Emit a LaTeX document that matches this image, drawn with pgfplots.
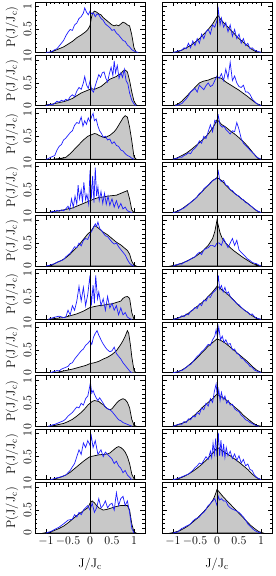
\documentclass[border=0pt]{standalone}
\usepackage{pgfplots}
\pgfplotsset{compat=1.18}
\usepgfplotslibrary{groupplots}
\definecolor{histgray}{RGB}{200,200,200}
\definecolor{myblue}{RGB}{30,30,255}
\newcommand{\panel}[2]{%
  \nextgroupplot
  \addplot[fill=histgray, draw=black, line width=0.7pt] coordinates {#1} \closedcycle;
  \addplot[myblue, line width=0.7pt] coordinates {#2};
  \addplot[black, line width=0.8pt] coordinates {(0,0) (0,1.1)};
}
\begin{document}
\begin{tikzpicture}
\begin{groupplot}[
  group style={group size=2 by 10, horizontal sep=17pt, vertical sep=3pt,
    xticklabels at=edge bottom, yticklabels at=edge left,
    xlabels at=edge bottom, ylabels at=edge left},
  scale only axis, width=110pt, height=50.4pt,
  xmin=-1.25, xmax=1.25, ymin=0, ymax=1.1,
  xtick={-1,-0.5,0,0.5,1}, ytick={0,0.5,1},
  minor x tick num=4, minor y tick num=4,
  tick align=inside, major tick length=4.5pt, minor tick length=2.5pt,
  axis line style={line width=0.9pt},
  every tick/.style={black, line width=0.7pt},
  tick label style={font=\fontsize{12}{14}\selectfont},
  yticklabel style={rotate=90, anchor=south},
  ylabel={P(J/J$_\mathrm{c}$)},
  ylabel style={at={(axis description cs:-0.21,0.5)}, anchor=center, font=\fontsize{12.5}{14}\selectfont},
  xlabel={J/J$_\mathrm{c}$},
  xlabel style={at={(axis description cs:0.5,-0.62)}, anchor=center, font=\fontsize{12.5}{14}\selectfont},
  clip=true,
]
% Row 1
\panel{(-1.0,0)(-0.9,0)(-0.8,0.04)(-0.7,0.08)(-0.6,0.12)(-0.5,0.18)(-0.4,0.24)(-0.3,0.32)(-0.2,0.38)(-0.1,0.45)(-0.05,0.5)(0,0.58)(0.03,0.75)(0.06,0.86)(0.1,0.9)(0.15,0.88)(0.2,0.84)(0.25,0.82)(0.3,0.76)(0.35,0.72)(0.4,0.68)(0.45,0.64)(0.5,0.6)(0.55,0.58)(0.6,0.6)(0.65,0.58)(0.7,0.62)(0.75,0.66)(0.8,0.64)(0.85,0.6)(0.9,0.58)(0.95,0.38)(1.0,0.1)(1.05,0)}
{(-1.0,0)(-0.9,0.01)(-0.85,0.03)(-0.8,0.06)(-0.75,0.08)(-0.7,0.14)(-0.65,0.2)(-0.6,0.26)(-0.55,0.36)(-0.5,0.44)(-0.45,0.5)(-0.4,0.48)(-0.35,0.6)(-0.3,0.64)(-0.25,0.74)(-0.2,0.78)(-0.15,0.86)(-0.12,0.97)(-0.08,0.88)(-0.04,0.82)(0,0.9)(0.04,0.84)(0.08,0.86)(0.12,0.78)(0.16,0.84)(0.2,0.82)(0.25,0.74)(0.3,0.7)(0.35,0.62)(0.4,0.58)(0.45,0.54)(0.5,0.48)(0.55,0.5)(0.6,0.42)(0.65,0.38)(0.7,0.32)(0.75,0.26)(0.8,0.24)(0.85,0.16)(0.9,0.12)(0.95,0.06)(1.0,0.03)(1.05,0.01)(1.1,0)}
\panel{(-1.0,0)(-0.9,0.01)(-0.8,0.05)(-0.7,0.1)(-0.6,0.15)(-0.5,0.22)(-0.4,0.3)(-0.3,0.4)(-0.2,0.5)(-0.1,0.62)(-0.05,0.7)(0,0.78)(0.03,0.8)(0.07,0.74)(0.12,0.68)(0.2,0.6)(0.3,0.5)(0.4,0.4)(0.5,0.3)(0.6,0.22)(0.7,0.14)(0.8,0.06)(0.9,0.01)(1.0,0)}
{(-1.0,0)(-0.95,0.01)(-0.85,0.04)(-0.8,0.05)(-0.75,0.1)(-0.7,0.08)(-0.65,0.2)(-0.6,0.1)(-0.55,0.25)(-0.5,0.15)(-0.45,0.3)(-0.4,0.2)(-0.35,0.4)(-0.3,0.3)(-0.25,0.45)(-0.2,0.5)(-0.15,0.4)(-0.1,0.6)(-0.05,0.55)(0,0.7)(0.03,0.94)(0.07,0.6)(0.1,0.75)(0.15,0.55)(0.2,0.65)(0.25,0.45)(0.3,0.6)(0.35,0.35)(0.4,0.5)(0.45,0.3)(0.5,0.4)(0.55,0.2)(0.6,0.3)(0.65,0.15)(0.7,0.2)(0.75,0.08)(0.8,0.1)(0.85,0.05)(0.9,0.03)(1.0,0)}
% Row 2
\panel{(-1.05,0)(-1.0,0.02)(-0.9,0.03)(-0.8,0.05)(-0.7,0.07)(-0.6,0.09)(-0.5,0.12)(-0.4,0.16)(-0.3,0.22)(-0.2,0.28)(-0.1,0.32)(0,0.36)(0.05,0.37)(0.1,0.36)(0.15,0.38)(0.2,0.4)(0.25,0.42)(0.3,0.46)(0.35,0.5)(0.4,0.54)(0.45,0.58)(0.5,0.6)(0.55,0.62)(0.6,0.64)(0.65,0.68)(0.7,0.7)(0.75,0.76)(0.8,0.78)(0.85,0.74)(0.9,0.55)(0.95,0.3)(1.0,0.1)(1.05,0.02)(1.1,0)}
{(-1.0,0)(-0.95,0.02)(-0.9,0.03)(-0.85,0.02)(-0.8,0.06)(-0.75,0.1)(-0.7,0.08)(-0.65,0.12)(-0.6,0.1)(-0.55,0.14)(-0.5,0.12)(-0.45,0.2)(-0.4,0.24)(-0.35,0.2)(-0.3,0.32)(-0.25,0.4)(-0.2,0.36)(-0.15,0.5)(-0.12,0.64)(-0.08,0.46)(-0.04,0.38)(0,0.54)(0.04,0.34)(0.08,0.3)(0.12,0.44)(0.16,0.56)(0.2,0.68)(0.24,0.62)(0.28,0.72)(0.32,0.74)(0.36,0.6)(0.4,0.52)(0.44,0.7)(0.48,0.84)(0.52,0.66)(0.55,0.98)(0.58,0.72)(0.62,0.88)(0.66,0.6)(0.7,0.72)(0.74,0.62)(0.78,0.8)(0.82,0.55)(0.86,0.48)(0.9,0.28)(0.95,0.12)(1.0,0.04)(1.05,0)}
\panel{(-1.0,0)(-0.9,0.03)(-0.8,0.1)(-0.7,0.2)(-0.6,0.3)(-0.5,0.4)(-0.4,0.5)(-0.3,0.54)(-0.2,0.56)(-0.1,0.6)(0,0.63)(0.1,0.6)(0.2,0.52)(0.3,0.46)(0.4,0.4)(0.5,0.34)(0.6,0.27)(0.7,0.2)(0.8,0.12)(0.9,0.05)(1.0,0.01)(1.05,0)}
{(-0.95,0)(-0.85,0.03)(-0.8,0.05)(-0.75,0.1)(-0.7,0.15)(-0.65,0.22)(-0.6,0.3)(-0.55,0.34)(-0.5,0.38)(-0.45,0.3)(-0.4,0.45)(-0.35,0.4)(-0.3,0.35)(-0.25,0.44)(-0.2,0.5)(-0.15,0.42)(-0.1,0.45)(-0.05,0.55)(0,0.65)(0.05,0.6)(0.1,0.7)(0.15,0.55)(0.2,0.8)(0.25,0.6)(0.3,0.95)(0.35,0.55)(0.4,0.65)(0.45,0.5)(0.5,0.42)(0.55,0.4)(0.6,0.45)(0.65,0.3)(0.7,0.3)(0.75,0.25)(0.8,0.15)(0.85,0.1)(0.9,0.05)(0.95,0.02)(1.0,0)}
% Row 3
\panel{(-0.85,0)(-0.75,0.01)(-0.65,0.02)(-0.55,0.04)(-0.45,0.12)(-0.35,0.22)(-0.25,0.32)(-0.15,0.42)(-0.05,0.5)(0,0.52)(0.05,0.54)(0.1,0.56)(0.15,0.55)(0.2,0.52)(0.25,0.5)(0.3,0.48)(0.35,0.47)(0.4,0.5)(0.45,0.52)(0.5,0.56)(0.55,0.6)(0.6,0.66)(0.65,0.74)(0.7,0.82)(0.75,0.9)(0.8,0.95)(0.85,0.92)(0.9,0.7)(0.95,0.4)(1.0,0.05)(1.05,0)}
{(-1.0,0)(-0.95,0.01)(-0.9,0.04)(-0.85,0.06)(-0.8,0.08)(-0.75,0.2)(-0.7,0.28)(-0.65,0.32)(-0.6,0.42)(-0.55,0.46)(-0.5,0.52)(-0.45,0.58)(-0.4,0.62)(-0.35,0.74)(-0.3,0.8)(-0.25,0.78)(-0.2,0.92)(-0.16,0.72)(-0.12,0.84)(-0.08,0.76)(-0.04,0.9)(0,0.82)(0.04,0.94)(0.07,1.0)(0.1,0.84)(0.14,0.88)(0.18,0.72)(0.22,0.62)(0.26,0.56)(0.3,0.48)(0.35,0.5)(0.4,0.42)(0.45,0.44)(0.5,0.34)(0.55,0.38)(0.6,0.3)(0.65,0.28)(0.7,0.2)(0.75,0.18)(0.8,0.12)(0.85,0.08)(0.9,0.06)(0.95,0.02)(1.0,0)}
\panel{(-1.0,0)(-0.9,0.03)(-0.8,0.08)(-0.7,0.13)(-0.6,0.2)(-0.5,0.28)(-0.4,0.36)(-0.3,0.45)(-0.2,0.55)(-0.1,0.68)(-0.05,0.76)(0,0.86)(0.05,0.82)(0.1,0.76)(0.2,0.7)(0.3,0.62)(0.4,0.55)(0.5,0.47)(0.6,0.38)(0.7,0.28)(0.8,0.16)(0.9,0.05)(0.95,0.01)(1.0,0)}
{(-1.0,0)(-0.9,0.02)(-0.85,0.05)(-0.8,0.04)(-0.75,0.08)(-0.7,0.1)(-0.65,0.14)(-0.6,0.12)(-0.55,0.2)(-0.5,0.24)(-0.45,0.3)(-0.4,0.4)(-0.35,0.35)(-0.3,0.5)(-0.25,0.45)(-0.2,0.6)(-0.15,0.75)(-0.1,0.6)(-0.05,0.85)(0,0.8)(0.03,0.95)(0.07,0.75)(0.12,0.7)(0.16,0.72)(0.2,0.65)(0.25,0.6)(0.3,0.55)(0.35,0.62)(0.4,0.6)(0.45,0.8)(0.5,0.65)(0.55,0.45)(0.6,0.35)(0.65,0.3)(0.7,0.25)(0.75,0.2)(0.8,0.15)(0.85,0.1)(0.9,0.05)(0.95,0.02)(1.0,0)}
% Row 4
\panel{(-0.95,0)(-0.85,0.02)(-0.7,0.04)(-0.55,0.07)(-0.4,0.1)(-0.3,0.14)(-0.2,0.18)(-0.1,0.22)(0,0.26)(0.1,0.3)(0.2,0.33)(0.3,0.34)(0.4,0.36)(0.5,0.37)(0.6,0.38)(0.7,0.42)(0.75,0.44)(0.8,0.46)(0.85,0.48)(0.9,0.3)(0.95,0.06)(1.0,0)}
{(-0.9,0)(-0.85,0.03)(-0.8,0.02)(-0.75,0.05)(-0.7,0.03)(-0.65,0.06)(-0.6,0.04)(-0.55,0.08)(-0.5,0.14)(-0.46,0.06)(-0.42,0.3)(-0.38,0.12)(-0.34,0.36)(-0.3,0.18)(-0.27,0.6)(-0.24,0.3)(-0.2,0.5)(-0.17,0.22)(-0.14,0.66)(-0.1,0.28)(-0.07,0.4)(-0.03,0.18)(0,0.92)(0.03,0.3)(0.06,0.8)(0.09,0.22)(0.12,0.98)(0.15,0.36)(0.18,0.56)(0.21,0.26)(0.25,0.46)(0.29,0.2)(0.33,0.42)(0.37,0.18)(0.41,0.36)(0.45,0.16)(0.5,0.3)(0.55,0.12)(0.6,0.26)(0.65,0.1)(0.7,0.2)(0.75,0.08)(0.8,0.12)(0.85,0.04)(0.9,0.02)(0.95,0)}
\panel{(-1.0,0)(-0.9,0.03)(-0.8,0.08)(-0.7,0.15)(-0.6,0.22)(-0.5,0.3)(-0.4,0.4)(-0.3,0.5)(-0.2,0.6)(-0.1,0.7)(0,0.76)(0.05,0.74)(0.1,0.7)(0.2,0.6)(0.3,0.5)(0.4,0.42)(0.5,0.35)(0.6,0.27)(0.7,0.2)(0.8,0.12)(0.9,0.04)(1.0,0)}
{(-1.0,0)(-0.9,0.02)(-0.85,0.05)(-0.8,0.08)(-0.75,0.1)(-0.7,0.14)(-0.65,0.18)(-0.6,0.22)(-0.55,0.26)(-0.5,0.3)(-0.45,0.34)(-0.4,0.42)(-0.35,0.44)(-0.3,0.52)(-0.25,0.56)(-0.2,0.6)(-0.15,0.64)(-0.1,0.7)(-0.05,0.72)(0,0.76)(0.03,0.9)(0.06,0.72)(0.1,0.68)(0.15,0.7)(0.2,0.6)(0.25,0.58)(0.3,0.5)(0.35,0.48)(0.4,0.42)(0.45,0.38)(0.5,0.36)(0.55,0.3)(0.6,0.28)(0.65,0.22)(0.7,0.2)(0.75,0.16)(0.8,0.12)(0.85,0.08)(0.9,0.05)(0.95,0.02)(1.0,0)}
% Row 5
\panel{(-0.95,0)(-0.85,0.03)(-0.75,0.08)(-0.65,0.12)(-0.55,0.18)(-0.45,0.26)(-0.35,0.36)(-0.25,0.46)(-0.15,0.58)(-0.05,0.7)(0,0.74)(0.05,0.8)(0.1,0.88)(0.15,0.86)(0.2,0.82)(0.3,0.74)(0.4,0.68)(0.5,0.6)(0.6,0.52)(0.7,0.46)(0.75,0.42)(0.8,0.38)(0.85,0.34)(0.9,0.26)(0.95,0.1)(1.0,0.02)(1.05,0)}
{(-1.0,0)(-0.9,0.02)(-0.85,0.04)(-0.8,0.05)(-0.75,0.08)(-0.7,0.1)(-0.65,0.12)(-0.6,0.14)(-0.55,0.2)(-0.5,0.24)(-0.45,0.28)(-0.4,0.34)(-0.35,0.42)(-0.3,0.4)(-0.25,0.5)(-0.2,0.44)(-0.15,0.56)(-0.1,0.6)(-0.05,0.58)(0,0.7)(0.04,0.76)(0.08,0.84)(0.12,0.92)(0.15,0.86)(0.18,0.96)(0.22,0.82)(0.26,0.78)(0.3,0.72)(0.35,0.66)(0.4,0.64)(0.45,0.58)(0.5,0.52)(0.55,0.48)(0.6,0.5)(0.65,0.42)(0.7,0.36)(0.75,0.3)(0.8,0.24)(0.85,0.14)(0.9,0.06)(0.95,0.02)(1.0,0)}
\panel{(-1.05,0)(-0.9,0.03)(-0.8,0.06)(-0.7,0.1)(-0.6,0.15)(-0.5,0.2)(-0.4,0.27)(-0.3,0.35)(-0.2,0.45)(-0.1,0.6)(-0.05,0.75)(-0.02,0.9)(0.0,1.0)(0.03,0.88)(0.07,0.72)(0.12,0.6)(0.2,0.5)(0.3,0.4)(0.4,0.32)(0.5,0.25)(0.6,0.18)(0.7,0.12)(0.8,0.06)(0.9,0.02)(1.0,0)}
{(-1.0,0)(-0.9,0.03)(-0.85,0.05)(-0.8,0.04)(-0.75,0.08)(-0.7,0.1)(-0.65,0.12)(-0.6,0.15)(-0.55,0.18)(-0.5,0.2)(-0.45,0.26)(-0.4,0.3)(-0.35,0.25)(-0.3,0.35)(-0.25,0.38)(-0.2,0.4)(-0.15,0.45)(-0.1,0.45)(-0.05,0.42)(0,0.5)(0.05,0.5)(0.1,0.45)(0.15,0.6)(0.2,0.5)(0.25,0.4)(0.3,0.5)(0.35,0.6)(0.4,0.45)(0.45,0.56)(0.5,0.35)(0.55,0.3)(0.6,0.25)(0.65,0.2)(0.7,0.15)(0.75,0.12)(0.8,0.08)(0.85,0.06)(0.9,0.05)(0.95,0.02)(1.0,0)}
% Row 6
\panel{(-0.95,0)(-0.8,0.02)(-0.6,0.04)(-0.45,0.08)(-0.3,0.12)(-0.15,0.18)(0,0.26)(0.1,0.28)(0.2,0.3)(0.3,0.31)(0.4,0.33)(0.5,0.34)(0.6,0.37)(0.7,0.4)(0.75,0.46)(0.8,0.49)(0.85,0.5)(0.9,0.46)(0.95,0.15)(1.0,0)}
{(-0.95,0)(-0.9,0.02)(-0.8,0.05)(-0.7,0.07)(-0.6,0.04)(-0.55,0.05)(-0.5,0.2)(-0.45,0.1)(-0.4,0.3)(-0.35,0.2)(-0.3,0.4)(-0.25,0.72)(-0.2,0.4)(-0.15,0.7)(-0.1,0.3)(-0.05,0.55)(0,0.96)(0.03,0.3)(0.07,0.75)(0.1,0.35)(0.13,0.96)(0.17,0.45)(0.2,0.6)(0.25,0.3)(0.3,0.45)(0.35,0.2)(0.4,0.5)(0.45,0.25)(0.5,0.35)(0.55,0.2)(0.6,0.3)(0.65,0.1)(0.7,0.25)(0.75,0.1)(0.8,0.15)(0.85,0.05)(0.9,0.02)(0.95,0)}
\panel{(-1.0,0)(-0.9,0.03)(-0.8,0.06)(-0.7,0.1)(-0.6,0.17)(-0.5,0.25)(-0.4,0.32)(-0.3,0.4)(-0.2,0.5)(-0.1,0.6)(0,0.72)(0.05,0.7)(0.1,0.65)(0.2,0.58)(0.3,0.5)(0.4,0.4)(0.5,0.3)(0.6,0.22)(0.7,0.15)(0.8,0.08)(0.9,0.02)(1.0,0)}
{(-1.0,0)(-0.9,0.02)(-0.85,0.04)(-0.8,0.08)(-0.75,0.06)(-0.7,0.12)(-0.65,0.1)(-0.6,0.18)(-0.55,0.2)(-0.5,0.26)(-0.45,0.24)(-0.4,0.34)(-0.35,0.3)(-0.3,0.42)(-0.25,0.4)(-0.2,0.5)(-0.15,0.48)(-0.1,0.58)(-0.05,0.62)(0,0.68)(0.03,0.96)(0.06,0.66)(0.1,0.74)(0.14,0.6)(0.18,0.7)(0.22,0.56)(0.26,0.6)(0.3,0.5)(0.35,0.44)(0.4,0.4)(0.45,0.34)(0.5,0.32)(0.55,0.26)(0.6,0.22)(0.65,0.18)(0.7,0.16)(0.75,0.1)(0.8,0.12)(0.85,0.06)(0.9,0.03)(1.0,0)}
% Row 7
\panel{(-0.85,0)(-0.7,0.02)(-0.55,0.05)(-0.4,0.08)(-0.25,0.12)(-0.1,0.16)(0,0.2)(0.1,0.22)(0.2,0.25)(0.3,0.3)(0.4,0.34)(0.5,0.4)(0.55,0.44)(0.6,0.48)(0.65,0.55)(0.7,0.62)(0.75,0.7)(0.8,0.8)(0.85,0.92)(0.88,0.86)(0.92,0.6)(0.95,0.35)(1.0,0.05)(1.05,0)}
{(-0.9,0)(-0.85,0.02)(-0.8,0.03)(-0.75,0.05)(-0.7,0.04)(-0.65,0.08)(-0.6,0.1)(-0.55,0.12)(-0.5,0.14)(-0.45,0.2)(-0.4,0.22)(-0.35,0.3)(-0.3,0.36)(-0.25,0.42)(-0.2,0.48)(-0.15,0.52)(-0.1,0.6)(-0.05,0.64)(0,0.7)(0.04,0.62)(0.08,0.78)(0.12,0.86)(0.16,0.92)(0.2,0.82)(0.24,0.74)(0.28,0.66)(0.32,0.6)(0.36,0.54)(0.4,0.5)(0.45,0.46)(0.5,0.48)(0.55,0.56)(0.6,0.42)(0.65,0.36)(0.7,0.3)(0.75,0.22)(0.8,0.16)(0.85,0.1)(0.9,0.04)(0.95,0)}
\panel{(-1.0,0)(-0.9,0.02)(-0.8,0.06)(-0.7,0.12)(-0.6,0.2)(-0.5,0.28)(-0.4,0.38)(-0.3,0.48)(-0.2,0.58)(-0.1,0.66)(0,0.74)(0.1,0.7)(0.2,0.64)(0.3,0.56)(0.4,0.48)(0.5,0.4)(0.6,0.32)(0.7,0.24)(0.8,0.14)(0.9,0.06)(1.0,0.01)(1.05,0)}
{(-1.0,0)(-0.9,0.02)(-0.85,0.04)(-0.8,0.05)(-0.75,0.08)(-0.7,0.12)(-0.65,0.16)(-0.6,0.18)(-0.55,0.24)(-0.5,0.3)(-0.45,0.36)(-0.4,0.4)(-0.35,0.46)(-0.3,0.5)(-0.25,0.56)(-0.2,0.62)(-0.15,0.6)(-0.1,0.72)(-0.05,0.8)(-0.02,0.94)(0.01,0.78)(0.04,1.0)(0.08,0.72)(0.12,0.8)(0.16,0.66)(0.2,0.72)(0.25,0.62)(0.3,0.64)(0.35,0.5)(0.4,0.52)(0.45,0.42)(0.5,0.4)(0.55,0.32)(0.6,0.3)(0.65,0.24)(0.7,0.2)(0.75,0.14)(0.8,0.12)(0.85,0.06)(0.9,0.04)(0.95,0.02)(1.0,0)}
% Row 8
\panel{(-0.9,0)(-0.8,0.02)(-0.7,0.04)(-0.6,0.06)(-0.5,0.1)(-0.4,0.15)(-0.3,0.22)(-0.2,0.3)(-0.1,0.4)(-0.05,0.46)(0,0.5)(0.05,0.54)(0.1,0.56)(0.15,0.55)(0.2,0.54)(0.25,0.5)(0.3,0.47)(0.35,0.42)(0.4,0.38)(0.45,0.36)(0.5,0.38)(0.55,0.44)(0.6,0.5)(0.65,0.55)(0.7,0.58)(0.75,0.6)(0.8,0.58)(0.85,0.52)(0.9,0.4)(0.95,0.15)(1.0,0.02)(1.05,0)}
{(-0.95,0)(-0.9,0.01)(-0.85,0.03)(-0.8,0.04)(-0.75,0.06)(-0.7,0.08)(-0.65,0.1)(-0.6,0.12)(-0.55,0.16)(-0.5,0.22)(-0.45,0.26)(-0.4,0.3)(-0.35,0.36)(-0.3,0.42)(-0.25,0.4)(-0.2,0.5)(-0.15,0.46)(-0.1,0.6)(-0.05,0.66)(-0.02,0.8)(0.01,0.95)(0.04,0.72)(0.07,0.78)(0.1,0.7)(0.14,0.62)(0.18,0.56)(0.22,0.62)(0.26,0.56)(0.3,0.5)(0.35,0.42)(0.4,0.38)(0.45,0.36)(0.5,0.32)(0.55,0.26)(0.6,0.2)(0.65,0.14)(0.7,0.12)(0.75,0.08)(0.8,0.06)(0.85,0.04)(0.9,0.02)(0.95,0)}
\panel{(-1.0,0)(-0.9,0.03)(-0.8,0.06)(-0.7,0.1)(-0.6,0.17)(-0.5,0.25)(-0.4,0.34)(-0.3,0.44)(-0.2,0.52)(-0.1,0.6)(0,0.7)(0.1,0.64)(0.2,0.58)(0.3,0.5)(0.4,0.42)(0.5,0.34)(0.6,0.24)(0.7,0.16)(0.8,0.08)(0.9,0.02)(1.0,0)}
{(-1.0,0)(-0.9,0.03)(-0.85,0.05)(-0.8,0.04)(-0.75,0.1)(-0.7,0.08)(-0.65,0.16)(-0.6,0.14)(-0.55,0.22)(-0.5,0.2)(-0.45,0.3)(-0.4,0.26)(-0.35,0.4)(-0.3,0.36)(-0.25,0.5)(-0.2,0.44)(-0.15,0.6)(-0.1,0.52)(-0.06,0.76)(-0.02,0.92)(0.01,0.6)(0.04,0.8)(0.07,0.56)(0.1,0.74)(0.14,0.58)(0.18,0.66)(0.22,0.5)(0.26,0.56)(0.3,0.46)(0.35,0.48)(0.4,0.38)(0.45,0.34)(0.5,0.32)(0.55,0.24)(0.6,0.2)(0.65,0.14)(0.7,0.12)(0.75,0.08)(0.8,0.06)(0.85,0.03)(0.9,0.01)(0.95,0)}
% Row 9
\panel{(-0.85,0)(-0.75,0.03)(-0.65,0.06)(-0.55,0.1)(-0.45,0.16)(-0.35,0.24)(-0.25,0.32)(-0.15,0.4)(-0.05,0.47)(0,0.5)(0.1,0.52)(0.2,0.54)(0.3,0.55)(0.4,0.56)(0.45,0.58)(0.5,0.62)(0.55,0.66)(0.6,0.7)(0.65,0.72)(0.7,0.7)(0.75,0.66)(0.8,0.6)(0.85,0.5)(0.9,0.35)(0.95,0.12)(1.0,0.02)(1.05,0)}
{(-0.9,0)(-0.85,0.01)(-0.75,0.04)(-0.7,0.05)(-0.6,0.08)(-0.55,0.1)(-0.5,0.15)(-0.45,0.2)(-0.4,0.28)(-0.35,0.35)(-0.3,0.5)(-0.25,0.65)(-0.2,0.55)(-0.15,0.8)(-0.1,0.7)(-0.05,0.85)(0,0.75)(0.03,0.95)(0.07,0.7)(0.12,0.85)(0.18,0.55)(0.25,0.65)(0.3,0.5)(0.35,0.6)(0.4,0.55)(0.45,0.5)(0.5,0.45)(0.55,0.35)(0.6,0.4)(0.65,0.3)(0.7,0.25)(0.75,0.15)(0.8,0.2)(0.85,0.1)(0.9,0.05)(0.95,0)}
\panel{(-0.95,0)(-0.85,0.03)(-0.75,0.07)(-0.65,0.12)(-0.55,0.18)(-0.45,0.25)(-0.35,0.33)(-0.25,0.42)(-0.15,0.52)(-0.05,0.63)(0,0.7)(0.05,0.68)(0.1,0.64)(0.2,0.58)(0.3,0.52)(0.4,0.45)(0.5,0.38)(0.6,0.3)(0.7,0.22)(0.8,0.12)(0.9,0.04)(1.0,0)}
{(-1.0,0)(-0.9,0.02)(-0.85,0.04)(-0.8,0.06)(-0.75,0.08)(-0.7,0.1)(-0.65,0.12)(-0.6,0.16)(-0.55,0.2)(-0.5,0.26)(-0.45,0.3)(-0.4,0.36)(-0.35,0.34)(-0.3,0.42)(-0.25,0.5)(-0.2,0.44)(-0.15,0.62)(-0.12,0.48)(-0.09,0.8)(-0.06,0.56)(-0.03,0.9)(0,0.5)(0.03,1.02)(0.06,0.52)(0.09,0.86)(0.12,0.5)(0.15,0.78)(0.18,0.48)(0.21,0.7)(0.25,0.52)(0.3,0.62)(0.35,0.46)(0.4,0.56)(0.45,0.42)(0.5,0.52)(0.55,0.36)(0.6,0.44)(0.65,0.3)(0.7,0.34)(0.75,0.22)(0.8,0.2)(0.85,0.1)(0.9,0.05)(0.95,0.02)(1.0,0)}
% Row 10
\panel{(-1.05,0)(-1.0,0.01)(-0.9,0.02)(-0.8,0.06)(-0.7,0.1)(-0.6,0.15)(-0.5,0.22)(-0.4,0.3)(-0.3,0.38)(-0.2,0.45)(-0.1,0.52)(-0.05,0.55)(0,0.65)(0.05,0.7)(0.1,0.66)(0.15,0.6)(0.2,0.55)(0.3,0.5)(0.4,0.52)(0.5,0.55)(0.6,0.58)(0.7,0.6)(0.8,0.6)(0.85,0.6)(0.9,0.5)(0.95,0.2)(1.0,0.02)(1.05,0)}
{(-1.0,0)(-0.9,0.03)(-0.8,0.08)(-0.7,0.13)(-0.6,0.2)(-0.5,0.28)(-0.4,0.3)(-0.35,0.4)(-0.3,0.35)(-0.25,0.45)(-0.2,0.4)(-0.15,0.5)(-0.1,0.55)(-0.05,0.6)(0,0.5)(0.05,0.65)(0.1,0.45)(0.15,0.55)(0.2,0.75)(0.25,0.55)(0.3,0.6)(0.35,0.7)(0.4,0.55)(0.45,0.62)(0.5,0.65)(0.55,0.5)(0.6,0.88)(0.65,0.6)(0.7,0.75)(0.75,0.8)(0.8,0.6)(0.85,0.7)(0.9,0.45)(0.95,0.1)(1.0,0)}
\panel{(-1.05,0)(-0.95,0.02)(-0.85,0.05)(-0.75,0.1)(-0.65,0.16)(-0.55,0.24)(-0.45,0.32)(-0.35,0.42)(-0.25,0.52)(-0.15,0.64)(-0.08,0.74)(-0.03,0.86)(0,0.95)(0.03,0.92)(0.08,0.86)(0.15,0.78)(0.25,0.68)(0.35,0.58)(0.45,0.48)(0.55,0.38)(0.65,0.28)(0.75,0.18)(0.85,0.1)(0.95,0.03)(1.05,0)}
{(-1.0,0)(-0.9,0.02)(-0.85,0.06)(-0.8,0.1)(-0.75,0.12)(-0.7,0.15)(-0.65,0.17)(-0.6,0.2)(-0.55,0.26)(-0.5,0.3)(-0.45,0.33)(-0.4,0.35)(-0.35,0.42)(-0.3,0.45)(-0.25,0.52)(-0.2,0.6)(-0.15,0.64)(-0.1,0.7)(-0.05,0.75)(0,0.6)(0.03,0.8)(0.06,0.72)(0.1,0.75)(0.15,0.7)(0.2,0.7)(0.25,0.6)(0.3,0.55)(0.35,0.52)(0.4,0.5)(0.45,0.48)(0.5,0.45)(0.55,0.4)(0.6,0.35)(0.65,0.28)(0.7,0.2)(0.75,0.15)(0.8,0.1)(0.85,0.06)(0.9,0.03)(1.0,0)}
\end{groupplot}
\pgfresetboundingbox
\useasboundingbox ([xshift=-35pt,yshift=2pt]group c1r1.north west) rectangle ([xshift=3pt,yshift=-43pt]group c2r10.south east);
\end{tikzpicture}
\end{document}
